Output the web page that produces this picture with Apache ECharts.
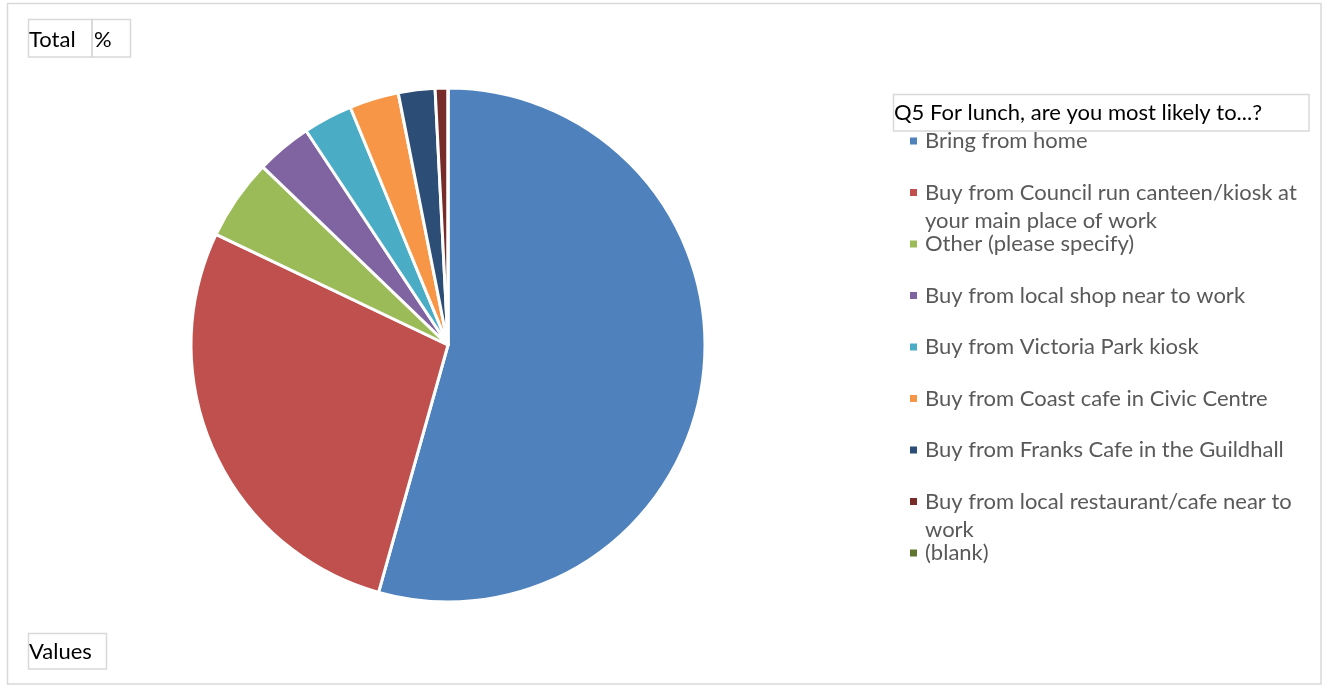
<!DOCTYPE html>
<html>
<head>
<meta charset="utf-8">
<script src="https://cdn.jsdelivr.net/npm/echarts@6/dist/echarts.min.js"></script>
<style>
  html, body { margin: 0; padding: 0; background: #fff; }
  #chart { width: 1324px; height: 686px; }
</style>
</head>
<body>
<div id="chart"></div>
<script>
// Q5 lunch survey answers, share of respondents (%)
const questionTitle = 'Q5 For lunch, are you most likely to...?';
const categories = [
  'Bring from home',
  'Buy from Council run canteen/kiosk at your main place of work',
  'Other (please specify)',
  'Buy from local shop near to work',
  'Buy from Victoria Park kiosk',
  'Buy from Coast cafe in Civic Centre',
  'Buy from Franks Cafe in the Guildhall',
  'Buy from local restaurant/cafe near to work',
  '(blank)'
];
const values = [54.3, 27.7, 5.1, 3.5, 3.1, 3.1, 2.3, 0.8, 0];
const palette = ['#4F81BD', '#C0504D', '#9BBB59', '#8064A2', '#4BACC6',
                 '#F79646', '#2C4D75', '#772C2A', '#5F7530'];

const FONT = 'Lato, "Open Sans", sans-serif';
const FONT_SIZE = 22;
const LINE = 28;

// word-wrap legend names to a fixed number of characters per line
function wrap(name, maxChars) {
  const words = name.split(' ');
  const lines = [];
  let cur = '';
  words.forEach(w => {
    const next = cur ? cur + ' ' + w : w;
    if (next.length > maxChars && cur) { lines.push(cur); cur = w; }
    else cur = next;
  });
  if (cur) lines.push(cur);
  return lines;
}

// legend text is centred on its marker, so wrapped names get blank
// lines above them to keep the first line level with the marker
function legendText(name) {
  const lines = wrap(name, 38);
  const pad = [];
  for (let k = 1; k < lines.length; k++) pad.push(' ');
  return pad.concat(lines).join('\n');
}

// one legend block per answer, stacked at a fixed pitch
const legends = categories.map((name, i) => {
  const n = wrap(name, 38).length;
  const h = (2 * n - 1) * LINE;
  const center = 141 + i * 51.5;
  return {
    data: [name],
    left: 908,
    top: center - h / 2,
    padding: 0,
    icon: 'rect',
    itemWidth: 9,
    itemHeight: 9,
    itemGap: 0,
    selectedMode: false,
    formatter: legendText,
    textStyle: {
      fontFamily: FONT,
      fontSize: FONT_SIZE,
      color: '#595959',
      lineHeight: LINE,
      padding: [0, 0, 0, 2]
    }
  };
});

function box(x, y, w, h) {
  return {
    type: 'rect',
    shape: { x: x, y: y, width: w, height: h },
    style: { fill: 'none', stroke: '#d9d9d9', lineWidth: 1.5 },
    silent: true
  };
}
function label(text, x, y) {
  return {
    type: 'text',
    x: x, y: y,
    style: { text: text, fill: '#000', font: FONT_SIZE + 'px ' + FONT, verticalAlign: 'middle' },
    silent: true
  };
}

const chart = echarts.init(document.getElementById('chart'), null, { renderer: 'canvas' });
chart.setOption({
  animation: false,
  color: palette,
  graphic: [
    box(7.5, 3.5, 1313.5, 680.5),
    box(28.5, 19.5, 63.5, 37.5),
    box(92, 19.5, 38.5, 37.5),
    box(28.5, 633.5, 78, 35.5),
    box(893.5, 94.5, 415.5, 36.5),
    label('Total', 29, 40),
    label('%', 94, 40),
    label('Values', 29, 652),
    label(questionTitle, 894, 113)
  ],
  legend: legends,
  series: [{
    type: 'pie',
    center: [448, 345],
    radius: 257,
    startAngle: 90,
    clockwise: true,
    avoidLabelOverlap: false,
    label: { show: false },
    labelLine: { show: false },
    emphasis: { disabled: true },
    itemStyle: { borderColor: '#ffffff', borderWidth: 3 },
    data: categories.map((name, i) => ({ name: name, value: values[i] }))
  }]
});
</script>
</body>
</html>
